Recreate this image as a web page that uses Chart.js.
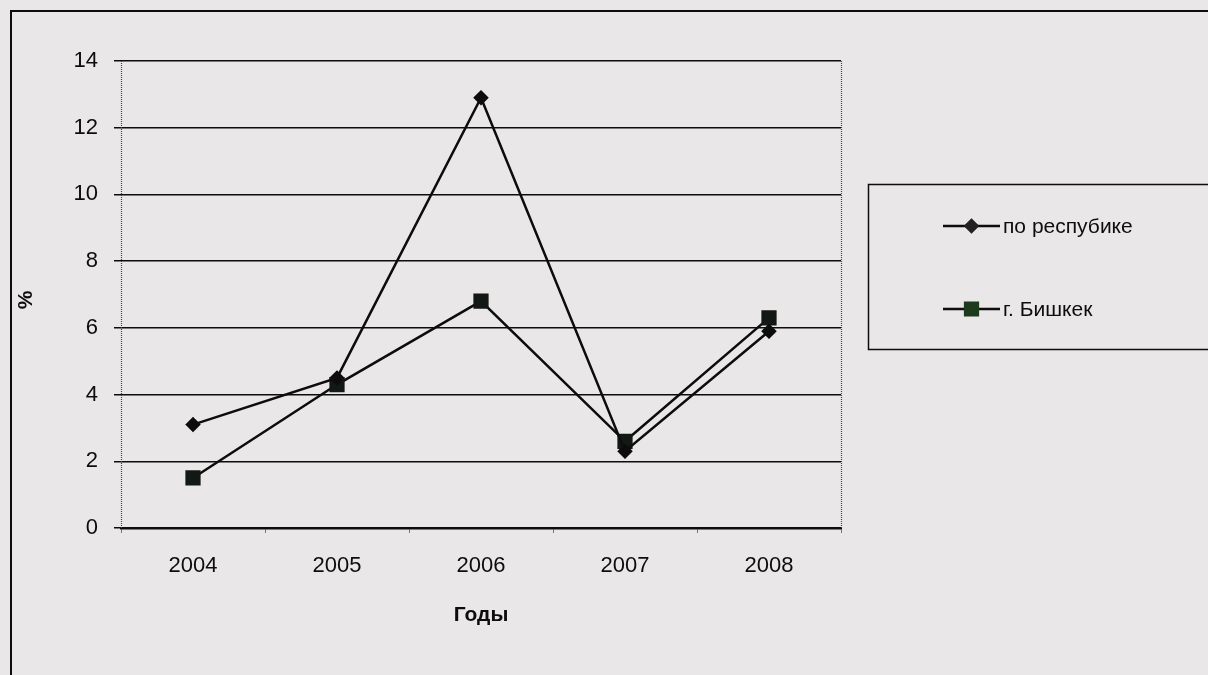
<!DOCTYPE html>
<html lang="ru">
<head>
<meta charset="utf-8">
<title>Заболеваемость, %</title>
<script src="https://cdn.jsdelivr.net/npm/chart.js@4.4.1/dist/chart.umd.min.js"></script>
<style>
  html, body { margin: 0; padding: 0; background: #e9e7e7; }
  canvas { display: block; }
</style>
</head>
<body>
<canvas id="chart" width="1208" height="675"></canvas>
<script>
// Years on the horizontal axis
const years = ['2004', '2005', '2006', '2007', '2008'];
// Share, % — whole republic
const republicValues = [3.1, 4.5, 12.9, 2.3, 5.9];
// Share, % — city of Bishkek
const bishkekValues = [1.5, 4.3, 6.8, 2.6, 6.3];
// Vertical axis ticks
const yTicks = [0, 2, 4, 6, 8, 10, 12, 14];

const seriesLabels = ['по респубике', 'г. Бишкек'];
const xTitle = 'Годы';
const yTitle = '%';

const FONT = '"Liberation Sans", Arial, sans-serif';
const INK = '#0d0d0d';

// Page background, outer frame, dotted plot edges, axis titles and legend box
const decorPlugin = {
  id: 'decor',
  beforeDraw(chart) {
    const ctx = chart.ctx;
    ctx.save();
    ctx.fillStyle = '#e9e7e7';
    ctx.fillRect(0, 0, chart.width, chart.height);
    ctx.restore();
  },
  afterDraw(chart) {
    const ctx = chart.ctx;
    const area = chart.chartArea;
    ctx.save();

    // outer frame (left and top edges)
    ctx.strokeStyle = INK;
    ctx.lineWidth = 2;
    ctx.beginPath();
    ctx.moveTo(11, chart.height);
    ctx.lineTo(11, 11);
    ctx.lineTo(chart.width, 11);
    ctx.stroke();

    // dotted left and right edges of the plot area
    ctx.strokeStyle = '#444';
    ctx.lineWidth = 1.2;
    ctx.setLineDash([1, 1]);
    ctx.beginPath();
    ctx.moveTo(area.left + 0.5, area.top);
    ctx.lineTo(area.left + 0.5, area.bottom);
    ctx.moveTo(area.right + 0.5, area.top);
    ctx.lineTo(area.right + 0.5, area.bottom);
    ctx.stroke();
    ctx.setLineDash([]);

    // axis titles
    ctx.fillStyle = INK;
    ctx.textAlign = 'center';
    ctx.textBaseline = 'middle';
    ctx.font = 'bold 21px ' + FONT;
    ctx.fillText(xTitle, 481, 615);
    ctx.save();
    ctx.translate(26, 300);
    ctx.rotate(-Math.PI / 2);
    ctx.font = 'bold 21px ' + FONT;
    ctx.fillText(yTitle, 0, 0);
    ctx.restore();

    // legend box
    const bx = 868, by = 184, bw = chart.width - bx + 5, bh = 165;
    ctx.strokeStyle = INK;
    ctx.lineWidth = 1.5;
    ctx.strokeRect(bx + 0.5, by + 0.5, bw, bh);

    const rows = [226, 309];
    chart.data.datasets.forEach((ds, i) => {
      const y = rows[i];
      const x0 = 943, x1 = 1000;
      ctx.strokeStyle = INK;
      ctx.lineWidth = 2.5;
      ctx.beginPath();
      ctx.moveTo(x0, y);
      ctx.lineTo(x1, y);
      ctx.stroke();
      ctx.fillStyle = ds.legendFill;
      ctx.strokeStyle = ds.legendFill;
      Chart.helpers.drawPoint(ctx, {
        pointStyle: ds.pointStyle,
        radius: ds.legendRadius,
        borderWidth: 1
      }, (x0 + x1) / 2, y);
      ctx.fillStyle = INK;
      ctx.font = '21px ' + FONT;
      ctx.textAlign = 'left';
      ctx.textBaseline = 'middle';
      ctx.fillText(ds.label, x1 + 3, y + 1);
    });

    ctx.restore();
  }
};

new Chart(document.getElementById('chart'), {
  type: 'line',
  data: {
    labels: years,
    datasets: [
      {
        label: seriesLabels[0],
        data: republicValues,
        borderColor: INK,
        backgroundColor: INK,
        borderWidth: 2.5,
        pointStyle: 'rectRot',
        pointRadius: 6,
        pointBackgroundColor: INK,
        pointBorderColor: INK,
        legendRadius: 6,
        legendFill: '#222',
        tension: 0
      },
      {
        label: seriesLabels[1],
        data: bishkekValues,
        borderColor: INK,
        backgroundColor: INK,
        borderWidth: 2.5,
        pointStyle: 'rect',
        pointRadius: 9,
        pointBackgroundColor: '#141814',
        pointBorderColor: '#141814',
        legendRadius: 9,
        legendFill: '#1d3a1d',
        tension: 0
      }
    ]
  },
  options: {
    responsive: false,
    animation: false,
    devicePixelRatio: 1,
    layout: { padding: { top: 61, right: 367, left: 0, bottom: 0 } },
    plugins: {
      legend: { display: false },
      tooltip: { enabled: false },
      title: { display: false }
    },
    scales: {
      x: {
        type: 'category',
        offset: true,
        afterFit(scale) { scale.height = 675 - 528; },
        grid: {
          display: true,
          offset: true,
          drawOnChartArea: false,
          drawTicks: true,
          tickLength: 5,
          color: '#777',
          lineWidth: 1
        },
        border: { display: true, color: INK, width: 2.5 },
        ticks: {
          color: INK,
          font: { family: FONT, size: 22 },
          padding: 20,
          maxRotation: 0
        }
      },
      y: {
        min: 0,
        max: 14,
        afterFit(scale) { scale.width = 121; },
        afterBuildTicks(scale) { scale.ticks = yTicks.map(v => ({ value: v })); },
        grid: {
          color: INK,
          lineWidth: 1.5,
          drawTicks: true,
          tickLength: 7,
          tickColor: INK
        },
        border: { display: false },
        ticks: {
          color: INK,
          font: { family: FONT, size: 22 },
          padding: 16
        }
      }
    }
  },
  plugins: [decorPlugin]
});
</script>
</body>
</html>
